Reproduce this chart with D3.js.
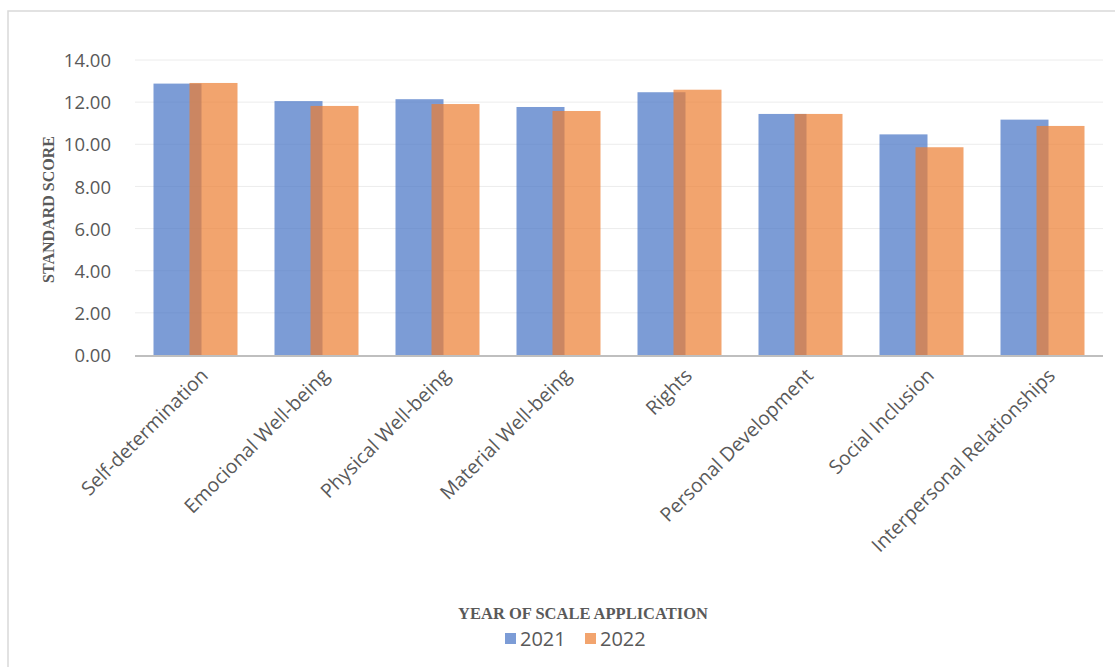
<!DOCTYPE html>
<html>
<head>
<meta charset="utf-8">
<script src="https://cdn.jsdelivr.net/npm/d3@7"></script>
<style>
  body { margin: 0; background: #fff; }
  svg { display: block; }
</style>
</head>
<body>
<svg id="chart" width="1115" height="667"></svg>
<script>
/* ---------------------------------------------------
   Data
--------------------------------------------------- */

const categories = ["Self-determination", "Emocional Well-being", "Physical Well-being",
  "Material Well-being", "Rights", "Personal Development", "Social Inclusion",
  "Interpersonal Relationships"];
const years = ["2021", "2022"];
const values2021 = [12.88, 12.05, 12.14, 11.77, 12.47, 11.44, 10.47, 11.17];
const values2022 = [12.91, 11.82, 11.91, 11.58, 12.59, 11.44, 9.86, 10.87];
const yTicks = [0, 2, 4, 6, 8, 10, 12, 14];

/* ---------------------------------------------------
   Setup
--------------------------------------------------- */

const svg = d3.select("#chart");
const colours = { "2021": "#4472C4", "2022": "#ED7D31" };
const textGrey = "#595959";
const sans = "'Open Sans', sans-serif";
const serif = "'Liberation Serif', 'Times New Roman', serif";

const plotLeft = 135, plotRight = 1103, plotTop = 60, plotBottom = 355;

// outer frame
svg.append("rect")
  .attr("x", 8).attr("y", 11)
  .attr("width", 1120).attr("height", 670)
  .attr("fill", "none")
  .attr("stroke", "#d9d9d9")
  .attr("stroke-width", 1.5);

const x = d3.scaleBand()
  .domain(categories)
  .range([plotLeft, plotRight]);

const y = d3.scaleLinear()
  .domain([0, 14])
  .range([plotBottom, plotTop]);

/* ---------------------------------------------------
   Grid + axes
--------------------------------------------------- */

svg.append("g")
  .selectAll("line")
  .data(yTicks.filter(d => d > 0))
  .join("line")
  .attr("x1", plotLeft).attr("x2", plotRight)
  .attr("y1", d => y(d)).attr("y2", d => y(d))
  .attr("stroke", "#ececec")
  .attr("stroke-width", 1);

const yAxis = svg.append("g")
  .attr("transform", `translate(${plotLeft - 21},0)`)
  .call(d3.axisLeft(y).tickValues(yTicks).tickFormat(d3.format(".2f")).tickSize(0));
yAxis.select(".domain").remove();
yAxis.selectAll("text")
  .attr("font-family", sans)
  .attr("font-size", 18.5)
  .attr("fill", textGrey)
  .attr("dy", "0.36em");

svg.append("text")
  .attr("transform", `translate(54,${(plotTop + plotBottom) / 2 + 2}) rotate(-90)`)
  .attr("text-anchor", "middle")
  .attr("font-family", serif)
  .attr("font-weight", "bold")
  .attr("font-size", 16)
  .attr("fill", textGrey)
  .text("STANDARD SCORE");

/* ---------------------------------------------------
   Bars
--------------------------------------------------- */

const barW = 48, overlap = 12;
const series = [values2021, values2022];

series.forEach((vals, si) => {
  svg.append("g")
    .selectAll("rect")
    .data(vals)
    .join("rect")
    .attr("x", (d, i) => {
      const c = x(categories[i]) + x.bandwidth() / 2;
      const start = c - barW + overlap / 2;
      return start + si * (barW - overlap);
    })
    .attr("y", d => y(d))
    .attr("width", barW)
    .attr("height", d => y(0) - y(d))
    .attr("fill", colours[years[si]])
    .attr("fill-opacity", 0.7);
});

// x axis line
svg.append("line")
  .attr("x1", plotLeft).attr("x2", plotRight)
  .attr("y1", plotBottom + 1).attr("y2", plotBottom + 1)
  .attr("stroke", "#bfbfbf")
  .attr("stroke-width", 2);

// category labels
svg.append("g")
  .selectAll("text")
  .data(categories)
  .join("text")
  .attr("transform", d => `translate(${x(d) + x.bandwidth() / 2 + 9},${plotBottom + 17}) rotate(-45)`)
  .attr("text-anchor", "end")
  .attr("dy", "0.35em")
  .attr("font-family", sans)
  .attr("font-size", 19.5)
  .attr("fill", textGrey)
  .text(d => d);

/* ---------------------------------------------------
   Legend
--------------------------------------------------- */

svg.append("text")
  .attr("x", 583).attr("y", 619)
  .attr("text-anchor", "middle")
  .attr("font-family", serif)
  .attr("font-weight", "bold")
  .attr("font-size", 16.5)
  .attr("fill", textGrey)
  .text("YEAR OF SCALE APPLICATION");

const legend = svg.append("g")
  .selectAll("g")
  .data(years)
  .join("g")
  .attr("transform", (d, i) => `translate(${505 + i * 80},639)`);

legend.append("rect")
  .attr("x", 0).attr("y", -6)
  .attr("width", 11).attr("height", 11)
  .attr("fill", d => colours[d])
  .attr("fill-opacity", 0.7);

legend.append("text")
  .attr("x", 15).attr("y", 0)
  .attr("dy", "0.35em")
  .attr("font-family", sans)
  .attr("font-size", 20)
  .attr("fill", textGrey)
  .text(d => d);
</script>
</body>
</html>
